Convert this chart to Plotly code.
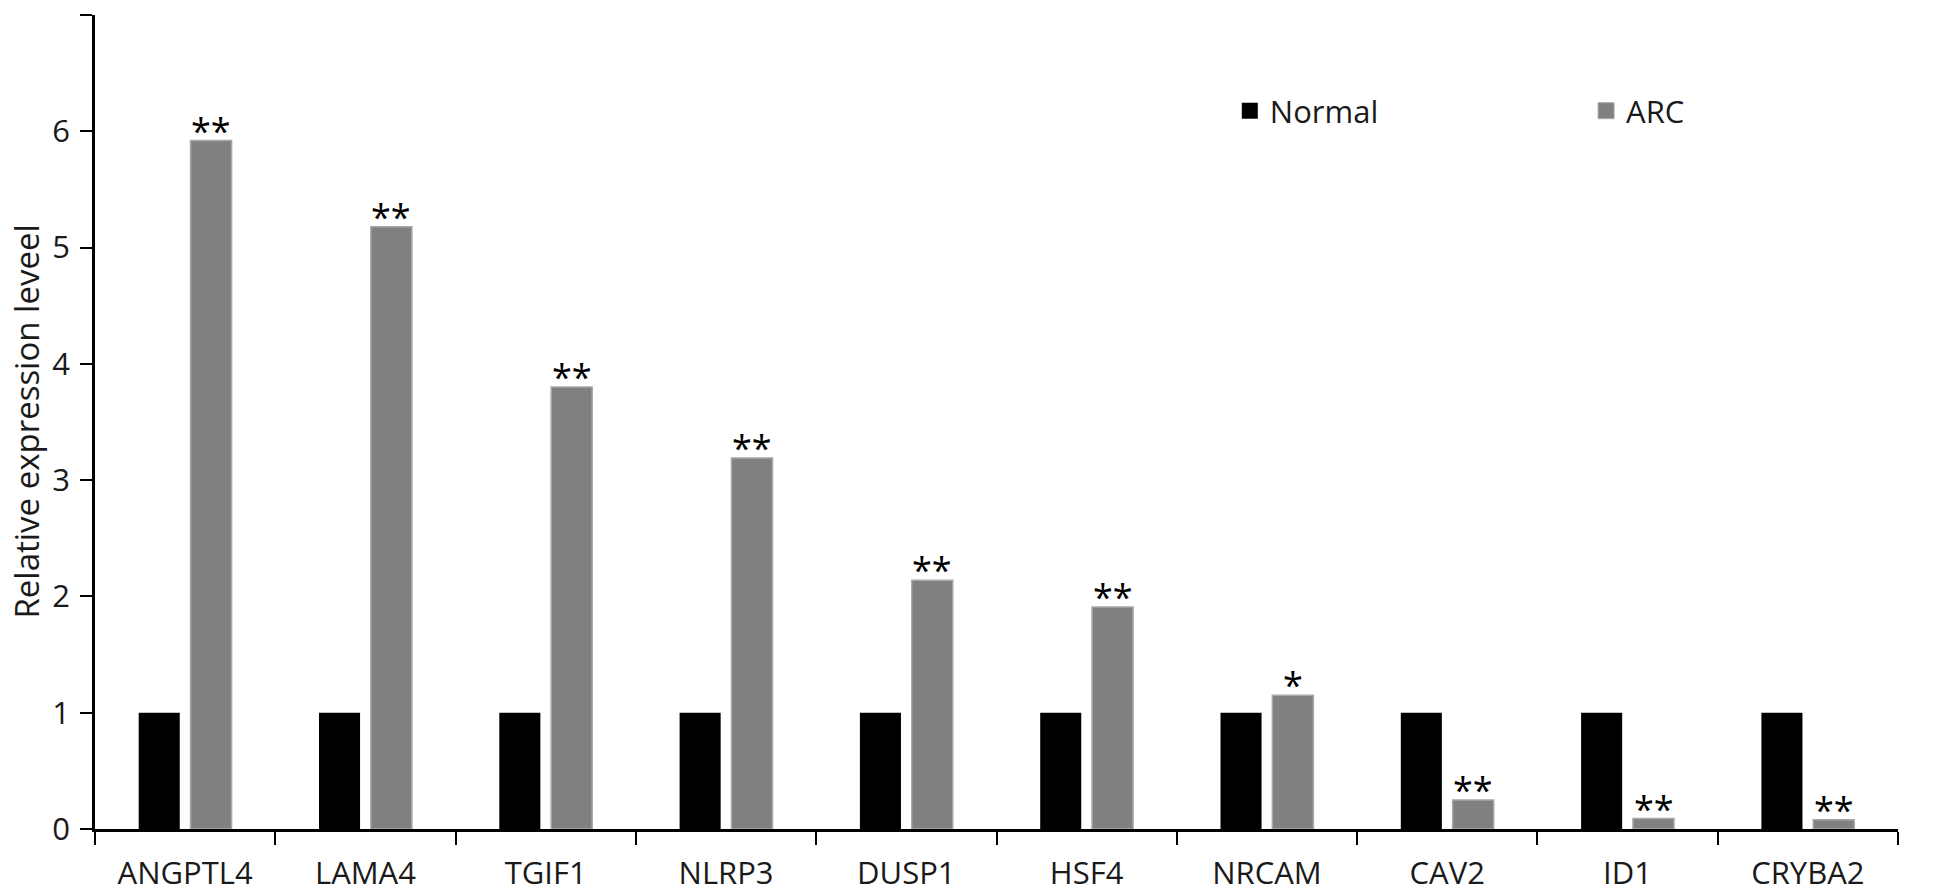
import plotly.graph_objects as go

genes = ["ANGPTL4", "LAMA4", "TGIF1", "NLRP3", "DUSP1", "HSF4", "NRCAM", "CAV2", "ID1", "CRYBA2"]
normal = [1, 1, 1, 1, 1, 1, 1, 1, 1, 1]
arc = [5.92, 5.18, 3.80, 3.19, 2.14, 1.91, 1.15, 0.25, 0.09, 0.08]
signif = ["**", "**", "**", "**", "**", "**", "*", "**", "**", "**"]
y_ticks = [0, 1, 2, 3, 4, 5, 6, 7]

FONT = "Open Sans"
TXT = "#1a1a1a"

fig = go.Figure()
fig.add_trace(go.Bar(x=genes, y=normal, name="Normal", marker=dict(color="#000000", line=dict(width=0)),
                     showlegend=False))
fig.add_trace(go.Bar(x=genes, y=arc, name="ARC", marker=dict(color="#808080", line=dict(color="#a8a8a8", width=1.5)),
                     showlegend=False))

# legend proxies
fig.add_trace(go.Scatter(x=[None], y=[None], mode="markers", name="Normal",
                         marker=dict(symbol="square", size=20, color="#000000"), legend="legend"))
fig.add_trace(go.Scatter(x=[None], y=[None], mode="markers", name="ARC",
                         marker=dict(symbol="square", size=20, color="#808080", line=dict(color="#a8a8a8", width=1)),
                         legend="legend2"))

# significance markers above ARC bars
for g, v, s in zip(genes, arc, signif):
    fig.add_annotation(x=g, y=v, text=s, showarrow=False, xref="x", yref="y",
                       yanchor="bottom", xshift=26, yshift=-16,
                       font=dict(family=FONT, size=36, color="#000000"))

fig.add_annotation(text="Relative expression leveel", textangle=-90, showarrow=False,
                   xref="paper", yref="paper", x=-0.0385, y=0.5, xanchor="center", yanchor="middle",
                   font=dict(family=FONT, size=33, color=TXT))

fig.update_layout(
    width=1946, height=890,
    margin=dict(l=87, r=56, t=7, b=69, autoexpand=False),
    paper_bgcolor="white", plot_bgcolor="white",
    barmode="group", bargap=0.425, bargroupgap=0.208,
    font=dict(family=FONT, size=31, color=TXT),
    legend=dict(orientation="h", x=0.6294, y=0.882, xanchor="left", yanchor="middle",
                font=dict(family=FONT, size=31, color=TXT), bgcolor="rgba(0,0,0,0)"),
    legend2=dict(orientation="h", x=0.827, y=0.882, xanchor="left", yanchor="middle",
                 font=dict(family=FONT, size=31, color=TXT), bgcolor="rgba(0,0,0,0)"),
    xaxis=dict(type="category", tickson="boundaries", ticks="outside", ticklen=13, tickwidth=2,
               tickcolor="black", showline=True, linecolor="black", linewidth=2.5,
               showgrid=False, zeroline=False, tickfont=dict(family=FONT, size=31, color=TXT),
               ticklabelstandoff=15, range=[-0.5, 9.5], automargin=False),
    yaxis=dict(range=[0, 7], tickvals=y_ticks, ticks="outside", ticklen=12, tickwidth=2,
               tickcolor="black", showline=True, linecolor="black", linewidth=2.5,
               showgrid=False, zeroline=False, tickfont=dict(family=FONT, size=31, color=TXT),
               ticklabelstandoff=4, automargin=False),
)

fig.write_html("out.html")
